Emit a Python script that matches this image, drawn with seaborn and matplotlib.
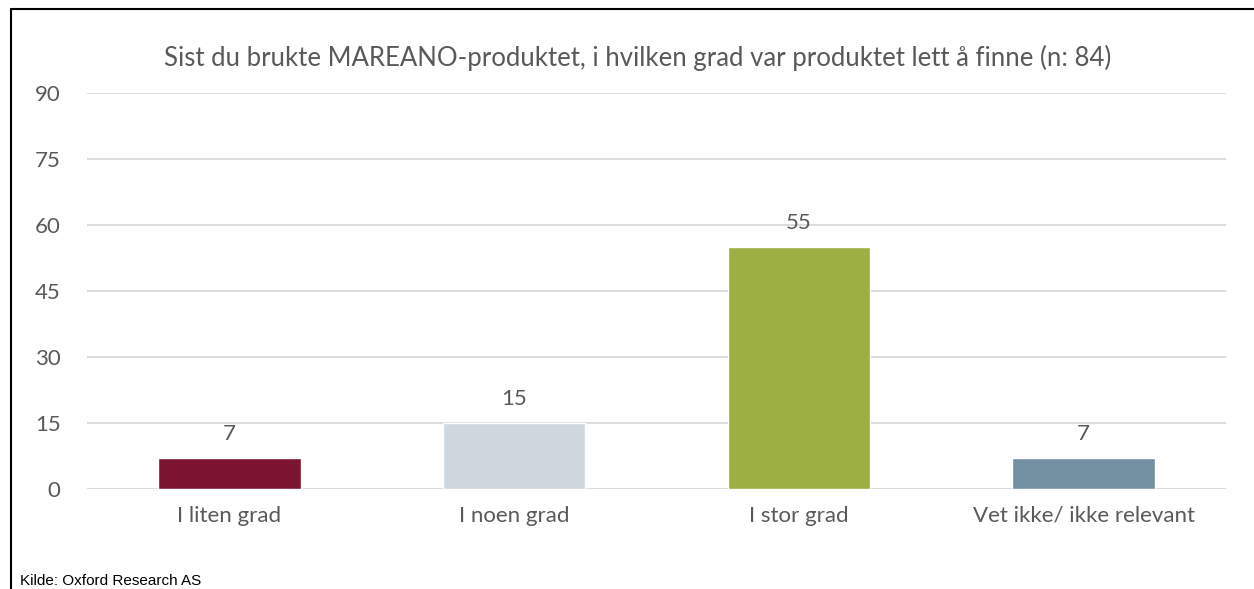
import matplotlib
matplotlib.use("Agg")
import matplotlib.pyplot as plt
import seaborn as sns
import pandas as pd
from matplotlib.lines import Line2D

categories = ["I liten grad", "I noen grad", "I stor grad", "Vet ikke/ ikke relevant"]
values = [7, 15, 55, 7]
colors = ["#7B1431", "#CFD8DF", "#9DAF42", "#7390A3"]
yticks = [0, 15, 30, 45, 60, 75, 90]
title = "Sist du brukte MAREANO-produktet, i hvilken grad var produktet lett å finne (n: 84)"
source = "Kilde: Oxford Research AS"

sns.set_theme(style="white")
plt.rcParams['font.family'] = ['Lato', 'DejaVu Sans']

W, H = 1254, 589
fig = plt.figure(figsize=(W / 100, H / 100), dpi=100)
ax = fig.add_axes([87 / W, 1 - 489 / H, (1226 - 87) / W, (489 - 93) / H])

df = pd.DataFrame({"cat": categories, "val": values})
sns.barplot(data=df, x="cat", y="val", hue="cat", palette=colors, legend=False,
            width=0.5, ax=ax, saturation=1)

ax.set_ylim(0, 90)
ax.set_xlim(-0.5, 3.5)
ax.set_yticks(yticks)
ax.yaxis.grid(True, color="#D9D9D9", linewidth=1.3)
ax.set_axisbelow(True)
for s in ax.spines.values():
    s.set_visible(False)
ax.set_xlabel("")
ax.set_ylabel("")
text_color = "#595959"
ax.tick_params(axis="y", length=0, pad=19, labelsize=16, labelcolor=text_color)
ax.tick_params(axis="x", length=0, pad=12, labelsize=16, labelcolor=text_color)

for i, v in enumerate(values):
    ax.annotate(str(v), (i, v), xytext=(0, 10), textcoords="offset points",
                ha="center", va="bottom", fontsize=16, color=text_color)

fig.text(638 / W, 1 - 58 / H, title, ha="center", va="center", fontsize=18.5, color=text_color)
fig.text(20 / W, 1 - 581 / H, source, ha="left", va="center", fontsize=11, color="black",
         family=["Liberation Sans Narrow", "Liberation Sans", "DejaVu Sans"])

fig.add_artist(Line2D([11 / W, 11 / W], [0, 1 - 9 / H], color="black", linewidth=1.5,
                      transform=fig.transFigure))
fig.add_artist(Line2D([11 / W, 1], [1 - 9 / H, 1 - 9 / H], color="black", linewidth=1.5,
                      transform=fig.transFigure))

fig.savefig("out.png", dpi=100, facecolor="white")
